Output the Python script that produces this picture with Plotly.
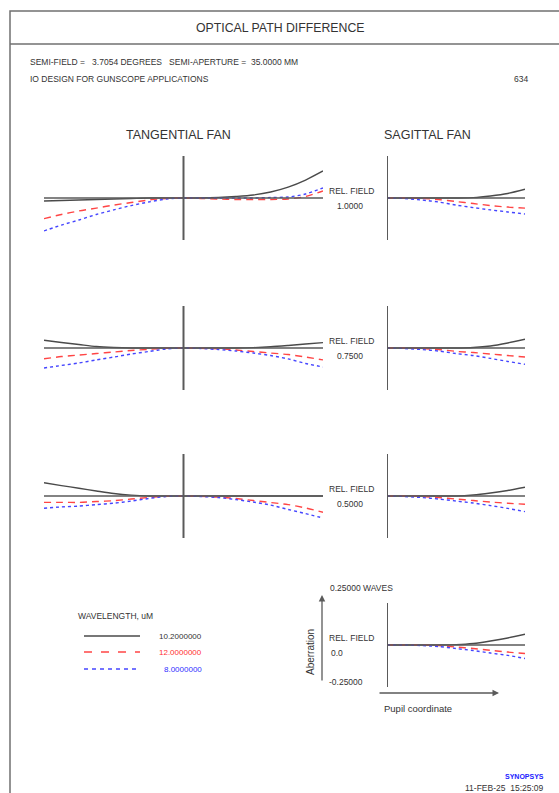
import plotly.graph_objects as go

W, H = 559, 793

# ---------------- data (waves) ----------------
tan_pupil = [-1, -0.875, -0.75, -0.625, -0.5, -0.375, -0.25, -0.125, 0,
             0.125, 0.25, 0.375, 0.5, 0.625, 0.75, 0.875, 1]
sag_pupil = [0, 0.125, 0.25, 0.375, 0.5, 0.625, 0.75, 0.875, 1]

wavelengths = ["10.2000000", "12.0000000", "8.0000000"]
rel_fields = ["1.0000", "0.7500", "0.5000", "0.0"]

# rel field 1.0
tan_f100_w102 = [-0.018, -0.015, -0.012, -0.009, -0.006, -0.003, 0, 0, 0, 0, 0.003, 0.009, 0.018, 0.036, 0.065, 0.107, 0.161]
tan_f100_w120 = [-0.123, -0.098, -0.077, -0.060, -0.042, -0.027, -0.012, -0.003, 0, -0.003, -0.006, -0.009, -0.009, -0.009, -0.006, 0.009, 0.042]
tan_f100_w080 = [-0.196, -0.161, -0.131, -0.098, -0.071, -0.045, -0.024, -0.006, 0, 0, 0, 0, 0, 0.003, 0.006, 0.024, 0.060]
sag_f100_w102 = [0, 0, 0, 0, 0, 0.002, 0.012, 0.027, 0.052]
sag_f100_w120 = [0, 0, -0.003, -0.009, -0.021, -0.033, -0.045, -0.054, -0.060]
sag_f100_w080 = [0, -0.003, -0.012, -0.024, -0.042, -0.057, -0.071, -0.083, -0.095]

# rel field 0.75
tan_f075_w102 = [0.046, 0.033, 0.021, 0.009, 0.003, 0, 0, 0, 0, 0, 0, 0, 0.002, 0.007, 0.015, 0.024, 0.032]
tan_f075_w120 = [-0.064, -0.051, -0.042, -0.033, -0.024, -0.015, -0.008, -0.002, 0, -0.002, -0.005, -0.012, -0.021, -0.030, -0.039, -0.054, -0.071]
tan_f075_w080 = [-0.119, -0.104, -0.089, -0.071, -0.054, -0.036, -0.021, -0.006, 0, -0.003, -0.009, -0.018, -0.030, -0.045, -0.065, -0.092, -0.113]
sag_f075_w102 = [0, 0, 0, 0, 0, 0.003, 0.012, 0.030, 0.052]
sag_f075_w120 = [0, 0, -0.003, -0.009, -0.020, -0.027, -0.036, -0.045, -0.054]
sag_f075_w080 = [0, -0.003, -0.009, -0.018, -0.033, -0.045, -0.062, -0.080, -0.097]

# rel field 0.5
tan_f050_w102 = [0.079, 0.062, 0.046, 0.030, 0.015, 0.005, 0, 0, 0, 0, 0, 0, 0, 0, 0, 0, 0]
tan_f050_w120 = [-0.038, -0.038, -0.038, -0.033, -0.028, -0.018, -0.009, -0.002, 0, -0.002, -0.006, -0.015, -0.027, -0.039, -0.051, -0.071, -0.097]
tan_f050_w080 = [-0.073, -0.065, -0.060, -0.051, -0.043, -0.030, -0.015, -0.003, 0, -0.003, -0.009, -0.021, -0.036, -0.054, -0.080, -0.105, -0.131]
sag_f050_w102 = [0, 0, 0, 0, 0, 0.006, 0.018, 0.033, 0.052]
sag_f050_w120 = [0, 0, -0.003, -0.009, -0.018, -0.027, -0.036, -0.043, -0.049]
sag_f050_w080 = [0, -0.003, -0.009, -0.018, -0.030, -0.042, -0.057, -0.074, -0.093]

# rel field 0.0 (sagittal only shown)
sag_f000_w102 = [0, 0, 0, 0, 0.002, 0.009, 0.024, 0.042, 0.064]
sag_f000_w120 = [0, 0, 0, -0.003, -0.012, -0.021, -0.032, -0.042, -0.051]
sag_f000_w080 = [0, 0, -0.003, -0.009, -0.021, -0.033, -0.048, -0.062, -0.080]

# ---------------- styles ----------------
FONT = "Liberation Sans, Arial, sans-serif"
TXT = "#333333"
AX = "#5a5a5a"
SMALL = 8.5
styles = [dict(color="#4a4a4a", width=1.4, dash="solid"),
          dict(color="#ff4545", width=1.4, dash="7px,5px"),
          dict(color="#4545ff", width=1.4, dash="3px,3px")]
legend_dash = ["solid", "8px,9px", "4px,4px"]
label_colors = ["#333333", "#ff3030", "#3030ff"]


def px_x(p):
    return p / W


def px_y(p):
    return 1 - p / H


fig = go.Figure()

baselines = [198, 348, 496, 645]
HALF = 42
tan_dom = [px_x(44), px_x(323)]
sag_dom = [px_x(387), px_x(525)]

rows = [
    (rel_fields[0], [tan_f100_w102, tan_f100_w120, tan_f100_w080], [sag_f100_w102, sag_f100_w120, sag_f100_w080]),
    (rel_fields[1], [tan_f075_w102, tan_f075_w120, tan_f075_w080], [sag_f075_w102, sag_f075_w120, sag_f075_w080]),
    (rel_fields[2], [tan_f050_w102, tan_f050_w120, tan_f050_w080], [sag_f050_w102, sag_f050_w120, sag_f050_w080]),
    (rel_fields[3], None, [sag_f000_w102, sag_f000_w120, sag_f000_w080]),
]

shapes = []
annotations = []
axis_n = 0
layout_axes = {}


def add_axes(xdom, ydom, xrange):
    global axis_n
    axis_n += 1
    suf = "" if axis_n == 1 else str(axis_n)
    layout_axes["xaxis" + suf] = dict(domain=xdom, range=xrange, visible=False, fixedrange=True,
                                      anchor="y" + suf)
    layout_axes["yaxis" + suf] = dict(domain=ydom, range=[-0.25, 0.25], visible=False, fixedrange=True,
                                      anchor="x" + suf)
    return "x" + suf, "y" + suf


def text(x, y, t, size=SMALL, anchor="left", color=TXT, **kw):
    annotations.append(dict(x=px_x(x), y=px_y(y), text=t, xref="paper", yref="paper",
                            xanchor=anchor, yanchor="middle", showarrow=False,
                            font=dict(family=FONT, size=size, color=color), **kw))


for (field, tan, sag), b in zip(rows, baselines):
    ydom = [px_y(b + HALF), px_y(b - HALF)]
    panels = []
    if tan is not None:
        panels.append((tan_dom, [-1, 1], tan_pupil, tan))
    panels.append((sag_dom, [0, 1], sag_pupil, sag))
    for xdom, xr, pupil, series in panels:
        xa, ya = add_axes(xdom, ydom, xr)
        shapes.append(dict(type="line", xref=xa, yref=ya + " domain", x0=0, x1=0, y0=0, y1=1,
                           line=dict(color=AX, width=2)))
        shapes.append(dict(type="line", xref=xa + " domain", yref=ya, x0=0, x1=1, y0=0, y1=0,
                           line=dict(color=AX, width=1.6)))
        for vals, st in zip(series, styles):
            fig.add_trace(go.Scatter(x=pupil, y=vals, mode="lines", xaxis=xa, yaxis=ya,
                                     line=dict(color=st["color"], width=st["width"], dash=st["dash"],
                                               shape="spline", smoothing=0.8),
                                     showlegend=False, hoverinfo="skip"))
    text(327, b - 7, "REL. FIELD")
    text(335 if field != "0.0" else 329, b + 8, field)

# header
text(280, 28, "OPTICAL PATH DIFFERENCE", size=12.3, anchor="center")
text(28, 62, "SEMI-FIELD =   3.7054 DEGREES   SEMI-APERTURE =  35.0000 MM")
text(28, 79, "IO DESIGN FOR GUNSCOPE APPLICATIONS")
text(530, 79, "634", anchor="right")
text(178, 135, "TANGENTIAL FAN", size=12.5, anchor="center")
text(427, 135, "SAGITTAL FAN", size=12.5, anchor="center")

# legend
text(76, 616, "WAVELENGTH, uM")
for i, (wl, st, lc) in enumerate(zip(wavelengths, styles, label_colors)):
    yy = [636, 652, 669][i]
    shapes.append(dict(type="line", xref="paper", yref="paper", x0=px_x(84), x1=px_x(140),
                       y0=px_y(yy), y1=px_y(yy),
                       line=dict(color=st["color"], width=st["width"] + 0.2, dash=legend_dash[i])))
    text(204, yy, wl, size=8, anchor="right", color=lc)

# axis guide for sagittal on-axis
text(328, 588, "0.25000 WAVES")
text(327, 682, "-0.25000")
annotations.append(dict(x=px_x(310), y=px_y(652), text="Aberration", xref="paper", yref="paper",
                        xanchor="center", yanchor="middle", showarrow=False, textangle=-90,
                        font=dict(family=FONT, size=10, color=TXT)))
annotations.append(dict(x=px_x(322), y=px_y(595), ax=0, ay=87, xref="paper", yref="paper",
                        axref="pixel", ayref="pixel", text="", showarrow=True, arrowhead=2,
                        arrowsize=1, arrowwidth=1.3, arrowcolor=AX))
annotations.append(dict(x=px_x(499), y=px_y(693), ax=-121, ay=0, xref="paper", yref="paper",
                        axref="pixel", ayref="pixel", text="", showarrow=True, arrowhead=2,
                        arrowsize=1, arrowwidth=1.3, arrowcolor=AX))
text(382, 708, "Pupil coordinate", size=9.5)

# footer
text(546, 776, "<b>SYNOPSYS</b>", size=7, anchor="right", color="#2020ff")
text(546, 788, "11-FEB-25  15:25:09", size=8.5, anchor="right")

# frame
shapes.append(dict(type="rect", xref="paper", yref="paper", x0=px_x(10), x1=px_x(575),
                   y0=px_y(800), y1=px_y(11), line=dict(color="#707070", width=1.5)))
shapes.append(dict(type="line", xref="paper", yref="paper", x0=px_x(10), x1=px_x(575),
                   y0=px_y(44), y1=px_y(44), line=dict(color="#707070", width=1.5)))

fig.update_layout(width=W, height=H, margin=dict(l=0, r=0, t=0, b=0),
                  paper_bgcolor="white", plot_bgcolor="white",
                  shapes=shapes, annotations=annotations, showlegend=False, **layout_axes)

fig.write_html("out.html", config={"displayModeBar": False},
               post_script="document.body.style.margin='0';document.body.style.overflow='hidden';")
